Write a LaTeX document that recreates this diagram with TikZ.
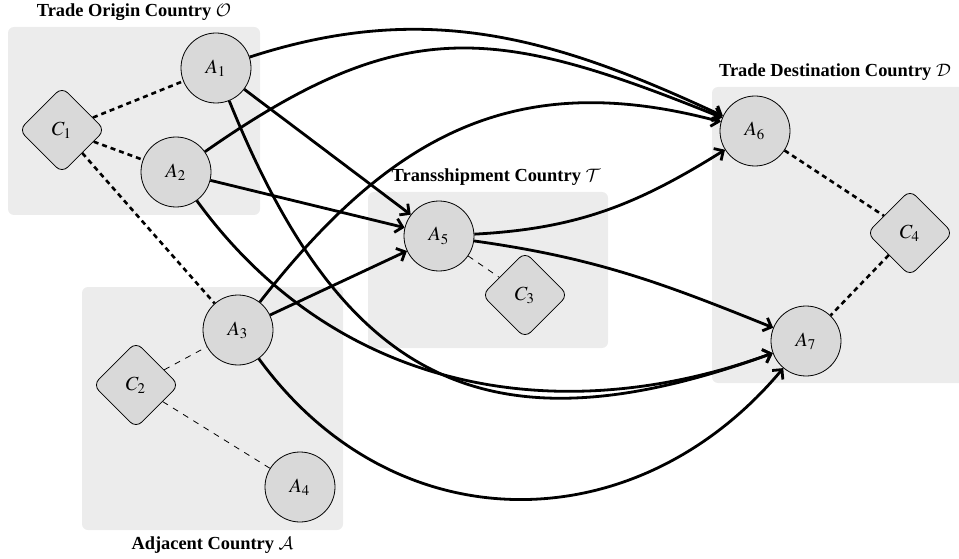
\documentclass[tikz,border=0pt]{standalone}
\usepackage{mathptmx}
\DeclareMathAlphabet{\mathcal}{OMS}{cmsy}{m}{n}
\usepackage[no-math]{fontspec}
\setmainfont{Liberation Serif}
\usetikzlibrary{positioning,arrows.meta,shapes.geometric,backgrounds}

\begin{document}
\begin{tikzpicture}[
  x=0.5pt,y=0.5pt,
  node distance=3pt,
  agent/.style={draw,circle,fill=gray!30,minimum size=35pt,inner sep=0pt,thin},
  ctrl/.style={draw,diamond,fill=gray!30,minimum width=43pt,minimum height=43pt,
               inner sep=0pt,rounded corners=4pt,thin},
  region/.style={fill=gray!15,rounded corners=3pt,inner sep=0pt},
  lbl/.style={font=\bfseries\fontsize{9.2}{11}\selectfont,inner sep=0pt},
  flow/.style={-{Straight Barb[length=3.5pt,width=7pt]},line width=1.4pt},
  tie/.style={line width=1.3pt,dash pattern=on 2.5pt off 2pt},
  weak/.style={thin,dashed},
]
\useasboundingbox (0,0) rectangle (959,558);
% country regions
\node[region,minimum width=126pt,minimum height=94pt] (origin) at (134,437) {};
\node[region,minimum width=120pt,minimum height=78pt] (trans) at (488,288) {};
\node[region,minimum width=127pt,minimum height=148pt] (dest) at (839,323) {};
\node[region,minimum width=130.5pt,minimum height=121.5pt] (adj) at (212.5,149.5) {};
\node[lbl,above=of origin] (origin-lbl) {Trade Origin Country $\mathcal{O}$};
\node[lbl,above=of trans,xshift=4pt] (trans-lbl) {Transshipment Country $\mathcal{T}$};
\node[lbl,above=of dest,xshift=-2pt] (dest-lbl) {Trade Destination Country $\mathcal{D}$};
\node[lbl,below=of adj] (adj-lbl) {Adjacent Country $\mathcal{A}$};
% actors
\node[agent] (a1) at (216,490) {$A_1$};
\node[agent] (a2) at (176,386) {$A_2$};
\node[agent] (a3) at (238,228) {$A_3$};
\node[agent] (a4) at (300,71) {$A_4$};
\node[agent] (a5) at (439,322) {$A_5$};
\node[agent] (a6) at (755,427) {$A_6$};
\node[agent] (a7) at (806,217) {$A_7$};
\node[ctrl] (c1) at (62,428) {$C_1$};
\node[ctrl] (c2) at (136,173) {$C_2$};
\node[ctrl] (c3) at (525,263) {$C_3$};
\node[ctrl] (c4) at (910,325) {$C_4$};
% control ties
\draw[tie] (c1) -- (a1); \draw[tie] (c1) -- (a2);
\draw[tie] (c1) -- (a3);
\draw[tie] (a6) -- (c4); \draw[tie] (c4) -- (a7);
\draw[weak] (a5) -- (c3);
\draw[weak] (c2) -- (a3); \draw[weak] (c2) -- (a4);
% trade flows
\draw[flow] (a1) to[out=18,in=155] (a6);
\draw[flow] (a2) to[out=35,in=158,looseness=1.2] (a6);
\draw[flow] (a3) to[out=52,in=165,looseness=1.1] (a6);
\draw[flow] (a5) to[out=3,in=-148] (a6);
\draw[flow] (a5) to[out=-8,in=158] (a7);
\draw[flow] (a1) -- (a5);
\draw[flow] (a2) -- (a5);
\draw[flow] (a3) -- (a5);
\draw[flow] (a1) to[out=-68,in=-160,looseness=1.3] (a7);
\draw[flow] (a2) to[out=-54,in=-160] (a7);
\draw[flow] (a3) to[out=-54,in=-130,looseness=1.12] (a7);
\end{tikzpicture}
\end{document}
